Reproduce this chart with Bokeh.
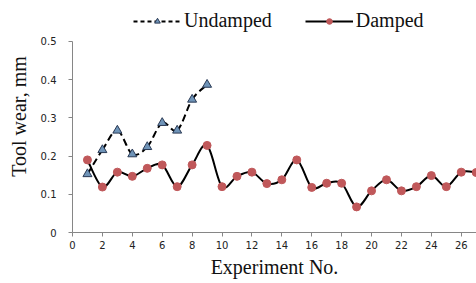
from bokeh.plotting import figure
from bokeh.models import Legend, LegendItem, Range1d, FixedTicker, NumeralTickFormatter, ColumnDataSource
from bokeh.embed import file_html
from bokeh.resources import INLINE

# Data
und_x = [1, 2, 3, 4, 5, 6, 7, 8, 9]
und_y = [0.153, 0.216, 0.267, 0.205, 0.224, 0.287, 0.267, 0.348, 0.387]
dmp_x = list(range(1, 28))
dmp_y = [0.19, 0.119, 0.158, 0.147, 0.168, 0.177, 0.12, 0.177, 0.228, 0.12,
         0.147, 0.158, 0.128, 0.138, 0.19, 0.118, 0.129, 0.129, 0.067, 0.109,
         0.138, 0.109, 0.12, 0.149, 0.12, 0.158, 0.157]
x_ticks = list(range(0, 27, 2))
y_ticks = [0, 0.1, 0.2, 0.3, 0.4, 0.5]


def smooth(xs, ys):
    # Catmull-Rom style smoothing (as in spreadsheet "smoothed line"), as Bezier segments
    n = len(xs)
    d = dict(x0=[], y0=[], x1=[], y1=[], cx0=[], cy0=[], cx1=[], cy1=[])
    for i in range(n - 1):
        p0 = (xs[max(i - 1, 0)], ys[max(i - 1, 0)])
        p1 = (xs[i], ys[i])
        p2 = (xs[i + 1], ys[i + 1])
        p3 = (xs[min(i + 2, n - 1)], ys[min(i + 2, n - 1)])
        d["x0"].append(p1[0]); d["y0"].append(p1[1])
        d["x1"].append(p2[0]); d["y1"].append(p2[1])
        d["cx0"].append(p1[0] + (p2[0] - p0[0]) / 6)
        d["cy0"].append(p1[1] + (p2[1] - p0[1]) / 6)
        d["cx1"].append(p2[0] - (p3[0] - p1[0]) / 6)
        d["cy1"].append(p2[1] - (p3[1] - p1[1]) / 6)
    return ColumnDataSource(d)


p = figure(width=476, height=283, output_backend="svg", toolbar_location=None,
           x_range=Range1d(0, 27.02), y_range=Range1d(0, 0.6073),
           min_border_left=72, min_border_right=0, min_border_top=0, min_border_bottom=51)
p.outline_line_color = None
p.xgrid.visible = False
p.ygrid.visible = False

blk = "#000000"
tri_fill, tri_line = "#6f94b8", "#2a3a55"
dot = "#c0585a"

# legend proxies (single data point, hidden beneath the real markers)
l1 = p.line(und_x[:1], und_y[:1], line_color=blk, line_width=2, line_dash="4 3")
m1 = p.scatter(und_x[:1], und_y[:1], marker="triangle", size=6, fill_color=tri_fill, line_color=tri_line)
l2 = p.line(dmp_x[:1], dmp_y[:1], line_color=blk, line_width=2)
m2 = p.scatter(dmp_x[:1], dmp_y[:1], marker="circle", size=5, fill_color=dot, line_color=dot)

p.bezier(x0="x0", y0="y0", x1="x1", y1="y1", cx0="cx0", cy0="cy0", cx1="cx1", cy1="cy1",
         source=smooth(und_x, und_y), line_color=blk, line_width=2, line_dash="7 4")
p.bezier(x0="x0", y0="y0", x1="x1", y1="y1", cx0="cx0", cy0="cy0", cx1="cx1", cy1="cy1",
         source=smooth(dmp_x, dmp_y), line_color=blk, line_width=2)
p.scatter(und_x, und_y, marker="triangle", size=9, fill_color=tri_fill,
          line_color=tri_line, line_width=1)
p.scatter(dmp_x, dmp_y, marker="circle", size=8, fill_color=dot, line_color=dot)

legend = Legend(items=[LegendItem(label="Undamped", renderers=[l1, m1]),
                       LegendItem(label="Damped", renderers=[l2, m2])],
                orientation="horizontal", location=(61, 200),
                glyph_width=48, glyph_height=14, label_standoff=3, spacing=33,
                label_text_font="Liberation Serif", label_text_font_size="20px",
                label_text_color="#111111", border_line_color=None,
                background_fill_alpha=0, margin=0, padding=4)
p.add_layout(legend, "center")

for ax in (p.xaxis[0], p.yaxis[0]):
    ax.axis_line_color = "#868686"
    ax.major_tick_line_color = "#868686"
    ax.minor_tick_line_color = None
    ax.major_tick_in = 0
    ax.major_tick_out = 4
    ax.major_label_text_font = "DejaVu Sans"
    ax.major_label_text_font_size = "10px"
    ax.major_label_text_color = "#222222"
    ax.axis_label_text_font = "Liberation Serif"
    ax.axis_label_text_font_size = "20px"
    ax.axis_label_text_font_style = "normal"
    ax.axis_label_text_color = "#111111"

p.xaxis.ticker = FixedTicker(ticks=x_ticks)
p.yaxis.ticker = FixedTicker(ticks=y_ticks)
p.yaxis.bounds = (0, 0.5)
p.yaxis.formatter = NumeralTickFormatter(format="0.[0]")
p.xaxis.axis_label = "Experiment No."
p.yaxis.axis_label = "Tool wear, mm"
p.xaxis.axis_label_standoff = 4
p.yaxis.axis_label_standoff = 8
p.xaxis.major_label_standoff = 4
p.yaxis.major_label_standoff = 12

open("out.html", "w").write(file_html(p, INLINE))
